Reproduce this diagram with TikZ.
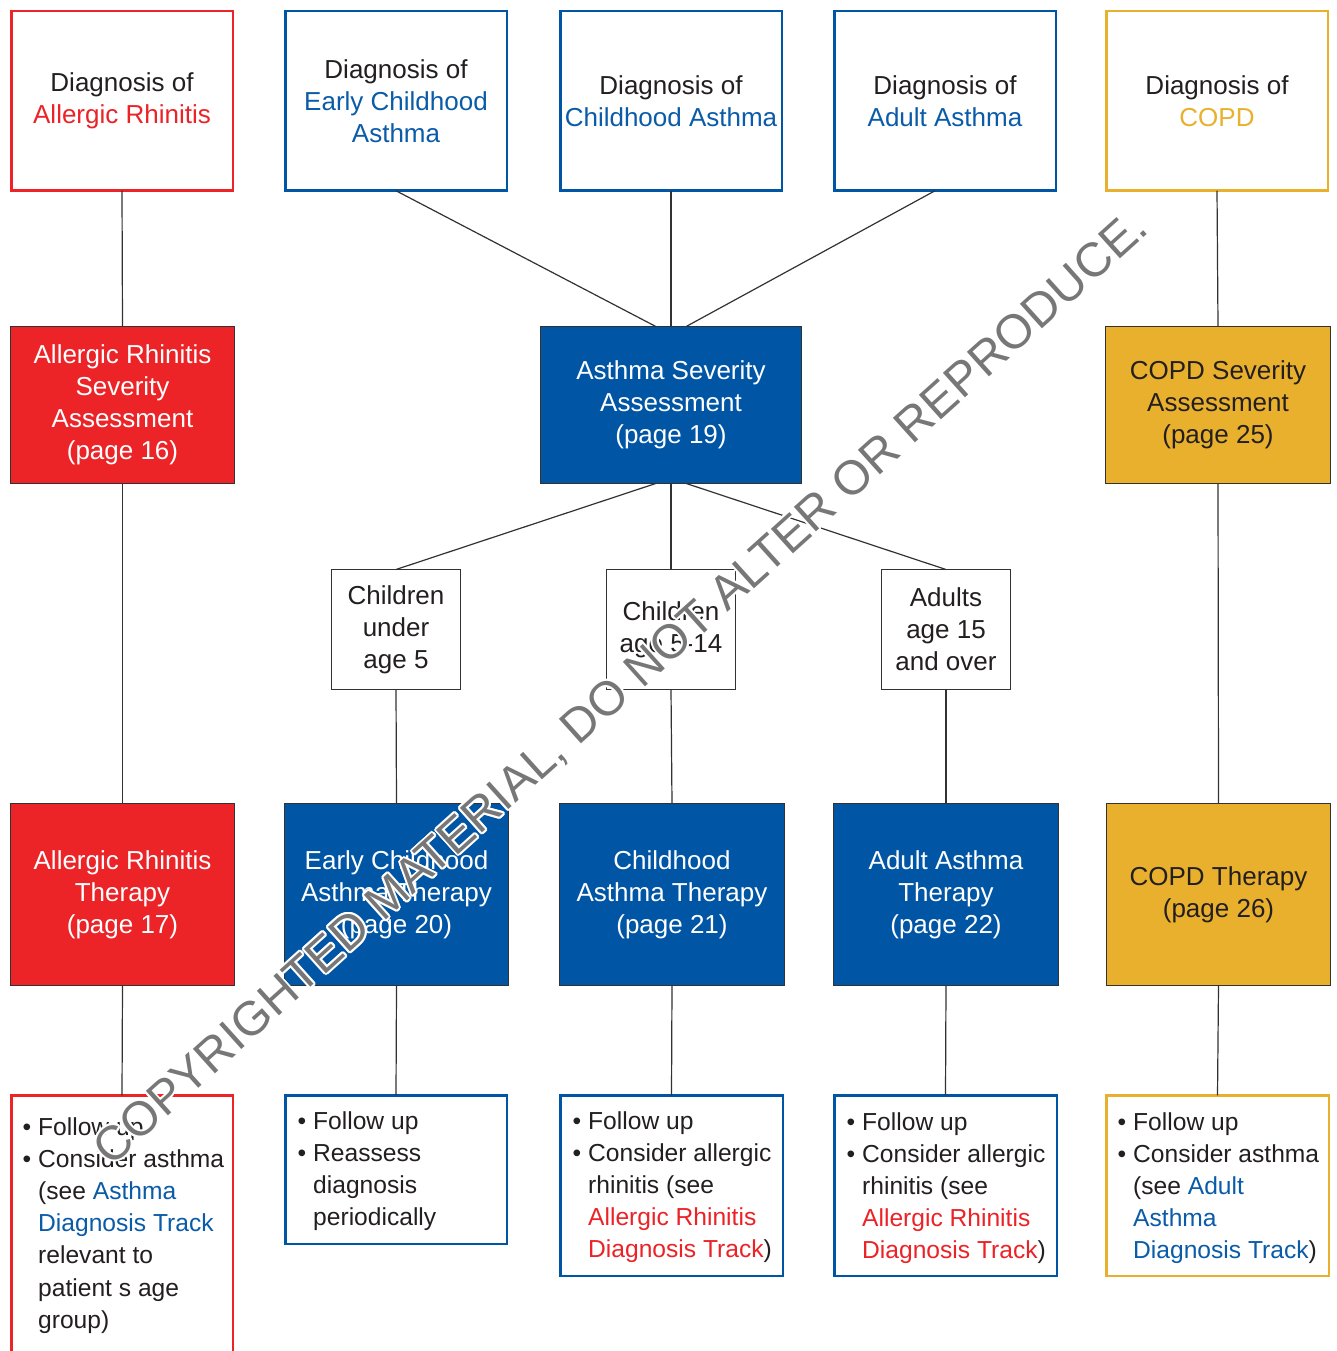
\documentclass[tikz,border=0pt]{standalone}
\usepackage{fontspec}
\setmainfont{Liberation Sans}
\definecolor{rfill}{RGB}{236,35,39}
\definecolor{bfill}{RGB}{0,85,165}
\definecolor{gfill}{RGB}{232,176,45}
\definecolor{rtxt}{RGB}{236,34,39}
\definecolor{btxt}{RGB}{10,91,168}
\definecolor{gtxt}{RGB}{232,177,46}
\definecolor{txt}{RGB}{35,31,32}
\definecolor{edge}{RGB}{50,50,50}
\definecolor{wmgray}{RGB}{119,119,119}
\newcommand\mybul{\llap{•\hspace{7pt}}}
\tikzset{
  basetext/.style={font=\fontsize{26}{32}\selectfont, align=center, inner sep=0pt, outer sep=0pt},
  diag/.style={basetext, draw=#1, line width=2.5pt, fill=white, minimum width=221.5pt, minimum height=179.5pt, text=txt},
  solidbox/.style={basetext, fill=#1, draw=edge, line width=1.2pt, text=white},
  agebox/.style={basetext, draw=edge, line width=1.2pt, fill=white, minimum width=129pt, minimum height=120pt, text=txt},
  notebox/.style={draw=#1, line width=2.5pt, fill=white, anchor=north west, inner sep=0pt, outer sep=0pt},
  notetext/.style={font=\fontsize{24.6}{32.2}\selectfont, align=left, anchor=base west, inner sep=0pt, text=txt},
  link/.style={draw=edge, line width=1.2pt},
  wm/.style={font=\fontsize{48}{52}\selectfont, rotate=42, inner sep=0pt},
}
\begin{document}
\begin{tikzpicture}[x=1pt,y=-1pt]
\useasboundingbox (0,0) rectangle (1336,1351);
\clip (0,0) rectangle (1336,1351);
\fill[white] (0,0) rectangle (1336,1351);
% top diagnosis boxes
\node[diag=rfill] (d1) at (122,101) {Diagnosis of\\\textcolor{rtxt}{Allergic Rhinitis}};
\node[diag=bfill] (d2) at (396,101) {Diagnosis of\\\textcolor{btxt}{Early Childhood}\\\textcolor{btxt}{Asthma}};
\node[diag=bfill] (d3) at (671,101) {Diagnosis of\\\textcolor{btxt}{Childhood Asthma}};
\node[diag=bfill] (d4) at (945,101) {Diagnosis of\\\textcolor{btxt}{Adult Asthma}};
\node[diag=gfill] (d5) at (1217,101) {Diagnosis of\\\textcolor{gtxt}{COPD}};
% severity boxes
\node[solidbox=rfill, minimum width=223.8pt, minimum height=156.8pt] (s1) at (122.5,405) {Allergic Rhinitis\\Severity\\Assessment\\(page 16)};
\node[solidbox=bfill, minimum width=260.8pt, minimum height=156.8pt] (s2) at (671,405) {Asthma Severity\\Assessment\\(page 19)};
\node[solidbox=gfill, minimum width=224.8pt, minimum height=156.8pt, text=txt] (s3) at (1218,405) {COPD Severity\\Assessment\\(page 25)};
% age boxes
\node[agebox] (a1) at (396,629.5) {Children\\under\\age 5};
\node[agebox] (a2) at (671,629.5) {Children\\age 5-14};
\node[agebox] (a3) at (946,629.5) {Adults\\age 15\\and over};
% therapy boxes
\node[solidbox=rfill, minimum width=223.8pt, minimum height=181.8pt] (t1) at (122.5,894.5) {Allergic Rhinitis\\Therapy\\(page 17)};
\node[solidbox=bfill, minimum width=223.8pt, minimum height=181.8pt] (t2) at (396.5,894.5) {Early Childhood\\Asthma Therapy\\(page 20)};
\node[solidbox=bfill, minimum width=224.8pt, minimum height=181.8pt] (t3) at (672,894.5) {Childhood\\Asthma Therapy\\(page 21)};
\node[solidbox=bfill, minimum width=224.8pt, minimum height=181.8pt] (t4) at (946,894.5) {Adult Asthma\\Therapy\\(page 22)};
\node[solidbox=gfill, minimum width=223.8pt, minimum height=181.8pt, text=txt] (t5) at (1218.5,894.5) {COPD Therapy\\(page 26)};
% note boxes
\node[notebox=rfill, minimum width=221.5pt, minimum height=300pt] (n1) at (11.25,1095.25) {};
\node[notebox=bfill, minimum width=221.5pt, minimum height=148.5pt] (n2) at (285.25,1095.25) {};
\node[notebox=bfill, minimum width=222.5pt, minimum height=180.5pt] (n3) at (560.25,1095.25) {};
\node[notebox=bfill, minimum width=222.5pt, minimum height=180.5pt] (n4) at (834.25,1095.25) {};
\node[notebox=gfill, minimum width=222.5pt, minimum height=180.5pt] (n5) at (1106.25,1095.25) {};
\node[notetext] (n1t) at (38,1328.2) {\mybul Follow up\\\mybul Consider asthma\\(see \textcolor{btxt}{Asthma}\\\textcolor{btxt}{Diagnosis Track}\\relevant to\\patient s age\\group)};
\node[notetext] (n2t) at (313,1225.6) {\mybul Follow up\\\mybul Reassess\\diagnosis\\periodically};
\node[notetext] (n3t) at (588,1257.8) {\mybul Follow up\\\mybul Consider allergic\\rhinitis (see\\\textcolor{rtxt}{Allergic Rhinitis}\\\textcolor{rtxt}{Diagnosis Track})};
\node[notetext] (n4t) at (862,1258.8) {\mybul Follow up\\\mybul Consider allergic\\rhinitis (see\\\textcolor{rtxt}{Allergic Rhinitis}\\\textcolor{rtxt}{Diagnosis Track})};
\node[notetext] (n5t) at (1133,1258.8) {\mybul Follow up\\\mybul Consider asthma\\(see \textcolor{btxt}{Adult}\\\textcolor{btxt}{Asthma}\\\textcolor{btxt}{Diagnosis Track})};
% connector anchor points
\coordinate (d4s) at ([xshift=-10pt]d4.south);
\coordinate (s2nl) at ([xshift=-15pt]s2.north);
\coordinate (s2nr) at ([xshift=15pt]s2.north);
\coordinate (s2sl) at ([xshift=-15pt]s2.south);
\coordinate (s2sr) at ([xshift=15pt]s2.south);
% connectors
\draw[link] (d1.south) -- (s1.north);
\draw[link] (s1.south) -- (t1.north);
\draw[link] (t1.south) -- (n1.north);
\draw[link] (d2.south) -- (s2nl);
\draw[link] (d3.south) -- (s2.north);
\draw[link] (d4s) -- (s2nr);
\draw[link] (s2sl) -- (a1.north);
\draw[link] (s2.south) -- (a2.north);
\draw[link] (s2sr) -- (a3.north);
\draw[link] (a1.south) -- (t2.north);
\draw[link] (a2.south) -- (t3.north);
\draw[link] (a3.south) -- (t4.north);
\draw[link] (t2.south) -- (n2.north);
\draw[link] (t3.south) -- (n3.north);
\draw[link] (t4.south) -- (n4.north);
\draw[link] (d5.south) -- (s3.north);
\draw[link] (s3.south) -- (t5.north);
\draw[link] (t5.south) -- (n5.north);
% watermark
\foreach \ang in {0,30,...,330}
  \node[wm, text=white] at ([shift={(\ang:2pt)}]622,689) {COPYRIGHTED MATERIAL, DO NOT ALTER OR REPRODUCE.};
\node[wm, text=wmgray] (wmark) at (622,689) {COPYRIGHTED MATERIAL, DO NOT ALTER OR REPRODUCE.};
\end{tikzpicture}
\end{document}
